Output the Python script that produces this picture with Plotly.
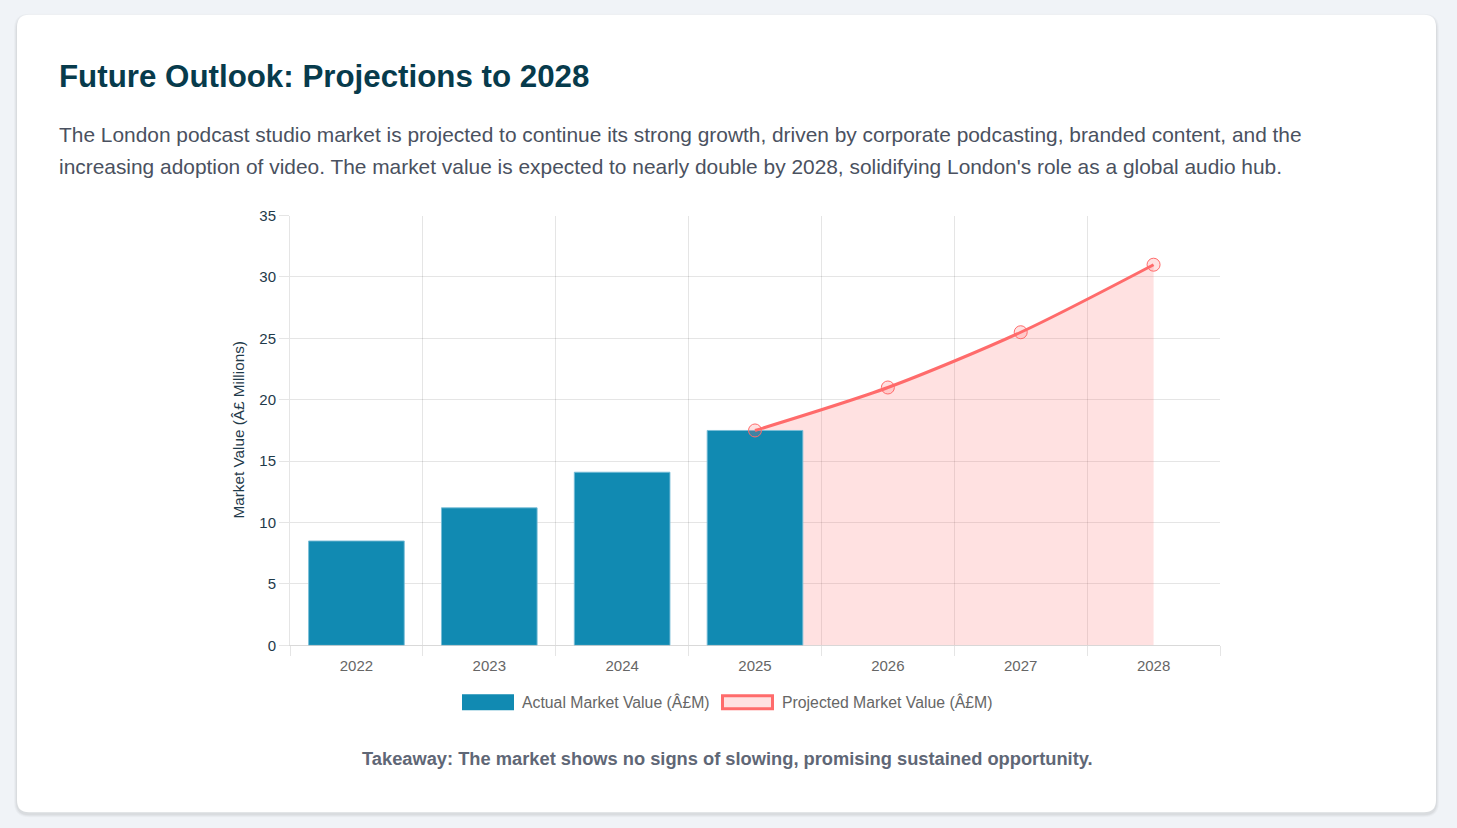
import plotly.graph_objects as go

W = 1457
H = 828
# measured page mapping: shown_y = 8.3 + 0.98 * figure_y
SHIFT, SCALE = 8.3, 0.98

# ---- data ----
years = ["2022", "2023", "2024", "2025", "2026", "2027", "2028"]
actual_values = [8.5, 11.2, 14.1, 17.5, None, None, None]
projected_values = [None, None, None, 17.5, 21.0, 25.5, 31.0]
series_names = ["Actual Market Value (Â£M)", "Projected Market Value (Â£M)"]
y_ticks = [0, 5, 10, 15, 20, 25, 30, 35]

title_text = "Future Outlook: Projections to 2028"
para_lines = [
    "The London podcast studio market is projected to continue its strong growth, driven by corporate podcasting, branded content, and the",
    "increasing adoption of video. The market value is expected to nearly double by 2028, solidifying London's role as a global audio hub.",
]
takeaway = "Takeaway: The market shows no signs of slowing, promising sustained opportunity."
y_title = "Market Value (Â£ Millions)"

BLUE = "#118ab2"
RED = "#ff6b6b"
PINK = "rgba(255,107,107,0.2)"
FONT = "Liberation Sans, Arial, sans-serif"


def X(px):
    return px / W


def Y(py):
    return 1 - ((py - SHIFT) / SCALE) / H


def rounded_rect(x0, y0, x1, y1, r):
    return (
        f"M {X(x0 + r)} {Y(y0)} L {X(x1 - r)} {Y(y0)} Q {X(x1)} {Y(y0)} {X(x1)} {Y(y0 + r)} "
        f"L {X(x1)} {Y(y1 - r)} Q {X(x1)} {Y(y1)} {X(x1 - r)} {Y(y1)} "
        f"L {X(x0 + r)} {Y(y1)} Q {X(x0)} {Y(y1)} {X(x0)} {Y(y1 - r)} "
        f"L {X(x0)} {Y(y0 + r)} Q {X(x0)} {Y(y0)} {X(x0 + r)} {Y(y0)} Z"
    )


proj_x = [x for x, v in zip(years, projected_values) if v is not None]
proj_y = [v for v in projected_values if v is not None]
act_x = [x for x, v in zip(years, actual_values) if v is not None]
act_y = [v for v in actual_values if v is not None]

fig = go.Figure()

# fill area (bottom layer)
fig.add_trace(go.Scatter(
    x=proj_x, y=proj_y, mode="lines", line=dict(color="rgba(0,0,0,0)", width=0, shape="spline", smoothing=0.8),
    fill="tozeroy", fillcolor=PINK, hoverinfo="skip", showlegend=False,
    xaxis="x", yaxis="y",
))
# bars (middle layer)
fig.add_trace(go.Bar(
    x=act_x, y=act_y, name=series_names[0],
    marker=dict(color=BLUE, line=dict(color="rgba(120,190,215,0.9)", width=1)),
    showlegend=False, xaxis="x2", yaxis="y2",
))
# line + markers (top layer)
fig.add_trace(go.Scatter(
    x=proj_x, y=proj_y, name=series_names[1], mode="lines+markers",
    line=dict(color=RED, width=3, shape="spline", smoothing=0.8),
    marker=dict(size=13, color=PINK, line=dict(color=RED, width=1)),
    showlegend=False, xaxis="x3", yaxis="y3",
))

xdom = [X(290), X(1220)]
ydom = [Y(645), Y(215)]
grid = "rgba(0,0,0,0.1)"

common_x = dict(type="category", categoryorder="array", categoryarray=years, range=[-0.5, 6.5], domain=xdom)
common_y = dict(range=[0, 35], domain=ydom)

fig.update_layout(
    width=W, height=H,
    margin=dict(l=0, r=0, t=0, b=0),
    paper_bgcolor="#f0f3f7", plot_bgcolor="rgba(0,0,0,0)",
    bargap=0.28,
    font=dict(family=FONT),
    xaxis=dict(**common_x, tickson="boundaries", showgrid=True, gridcolor=grid, gridwidth=1,
               ticks="outside", ticklen=10, tickcolor=grid, showline=True, linecolor="rgba(0,0,0,0.15)",
               ticklabelstandoff=7,
               tickfont=dict(size=15, color="#666666"), zeroline=False, fixedrange=True),
    yaxis=dict(**common_y, tickmode="array", tickvals=y_ticks, showgrid=True, gridcolor=grid, gridwidth=1,
               ticks="outside", ticklen=10, tickcolor=grid, showline=True, linecolor="rgba(0,0,0,0.1)",
               tickfont=dict(size=15, color="#1f3a4a"), zeroline=False, fixedrange=True),
    xaxis2=dict(**common_x, overlaying="x", visible=False),
    yaxis2=dict(**common_y, overlaying="y", visible=False),
    xaxis3=dict(**common_x, overlaying="x", visible=False),
    yaxis3=dict(**common_y, overlaying="y", visible=False),
)

shapes = []
# shadow
for i, a in enumerate([0.025, 0.03, 0.04]):
    d = 3 - i
    shapes.append(dict(type="path", xref="paper", yref="paper", layer="below",
                       path=rounded_rect(17 - d, 14 - d + 2, 1436 + d, 812 + d + 2, 12 + d),
                       fillcolor=f"rgba(0,0,0,{a})", line=dict(width=0)))
# card
shapes.append(dict(type="path", xref="paper", yref="paper", layer="below",
                   path=rounded_rect(17, 14, 1436, 812, 12), fillcolor="white", line=dict(width=0)))
# legend boxes
shapes.append(dict(type="rect", xref="paper", yref="paper", x0=X(462), x1=X(514), y0=Y(710), y1=Y(694),
                   fillcolor=BLUE, line=dict(width=0)))
shapes.append(dict(type="rect", xref="paper", yref="paper", x0=X(722.5), x1=X(772.5), y0=Y(708.5), y1=Y(695.5),
                   fillcolor=PINK, line=dict(color=RED, width=3)))

annotations = [
    dict(text=f"<b>{title_text}</b>", x=X(57), y=Y(76), xref="paper", yref="paper", xanchor="left", yanchor="middle",
         showarrow=False, font=dict(size=31.3, color="#073b4c", family=FONT)),
    dict(text=para_lines[0], x=X(57), y=Y(134), xref="paper", yref="paper", xanchor="left", yanchor="middle",
         showarrow=False, font=dict(size=20.9, color="#4a5160", family=FONT)),
    dict(text=para_lines[1], x=X(57), y=Y(166), xref="paper", yref="paper", xanchor="left", yanchor="middle",
         showarrow=False, font=dict(size=20.9, color="#4a5160", family=FONT)),
    dict(text=y_title, x=X(238), y=Y(430), xref="paper", yref="paper", xanchor="center", yanchor="middle",
         textangle=-90, showarrow=False, font=dict(size=15.3, color="#1f3a4a", family=FONT)),
    dict(text=series_names[0], x=X(520), y=Y(702), xref="paper", yref="paper", xanchor="left", yanchor="middle",
         showarrow=False, font=dict(size=15.8, color="#666666", family=FONT)),
    dict(text=series_names[1], x=X(780), y=Y(702), xref="paper", yref="paper", xanchor="left", yanchor="middle",
         showarrow=False, font=dict(size=15.8, color="#666666", family=FONT)),
    dict(text=f"<b>{takeaway}</b>", x=X(727), y=Y(758), xref="paper", yref="paper", xanchor="center", yanchor="middle",
         showarrow=False, font=dict(size=18.3, color="#5f6776", family=FONT)),
]

fig.update_layout(shapes=shapes, annotations=annotations)

fig.write_html("out.html", config={"displayModeBar": False})
